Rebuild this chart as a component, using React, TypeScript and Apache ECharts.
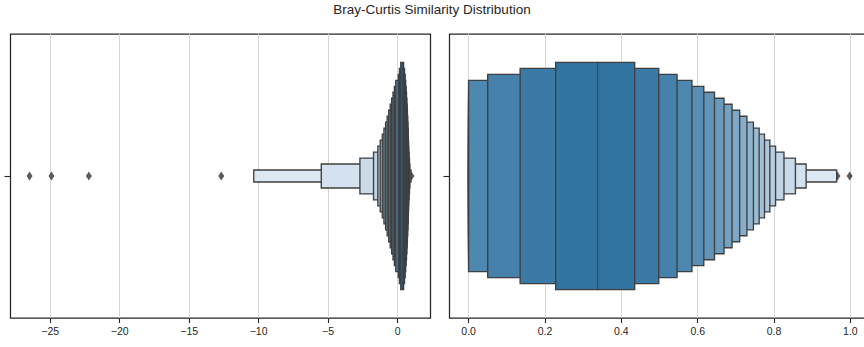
import React, { useEffect, useRef } from "react";
import * as echarts from "echarts";

const TITLE = "Bray-Curtis Similarity Distribution";

// Letter values, innermost box (L1) to outermost box (L19)
const leftLower = [0.228, 0.135, 0.05, -0.13, -0.23, -0.33, -0.43, -0.53, -0.64, -0.75, -0.86, -0.98, -1.1, -1.25, -1.42, -1.73, -2.71, -5.49, -10.35];
const leftUpper = [0.435, 0.498, 0.546, 0.585, 0.616, 0.644, 0.669, 0.69, 0.71, 0.729, 0.746, 0.761, 0.775, 0.789, 0.804, 0.826, 0.856, 0.884, 0.964];
const rightLower = [0.228, 0.135, 0.05, 0, 0, 0, 0, 0, 0, 0, 0, 0, 0, 0, 0, 0, 0, 0, 0];
const rightUpper = [0.435, 0.498, 0.546, 0.585, 0.616, 0.644, 0.669, 0.69, 0.71, 0.729, 0.746, 0.761, 0.775, 0.789, 0.804, 0.826, 0.856, 0.884, 0.964];
const leftMedian = 0.338;
const rightMedian = 0.338;
const leftOutliers = [-26.49, -24.91, -22.22, -12.69, 0.998];
const rightOutliers = [0.966, 0.998];
const leftTicks = [-25, -20, -15, -10, -5, 0];
const rightTicks = [0, 0.2, 0.4, 0.6, 0.8, 1.0];

const INNER = [50, 116, 161];
const OUTER = [220, 232, 242];
const EDGE = "#3f3f3f";
const MARK = "#333333";
const TEXT = "#262626";
const FONT = "Liberation Sans, Arial, sans-serif";

function levelColors(n: number): string[] {
  const out: string[] = [];
  for (let i = 0; i < n; i++) {
    const t = n === 1 ? 0 : i / (n - 1);
    const c = INNER.map((v, j) => Math.round(v + (OUTER[j] - v) * t));
    out.push(`rgb(${c[0]},${c[1]},${c[2]})`);
  }
  return out;
}

function boxData(lower: number[], upper: number[]) {
  const n = lower.length;
  const rows: number[][] = [];
  // outermost first so inner boxes are drawn on top
  for (let i = n - 1; i >= 0; i--) {
    const half = (0.4 * (n - i)) / n;
    rows.push([lower[i], upper[i], half, i]);
  }
  return rows;
}

export default function App() {
  const ref = useRef<HTMLDivElement>(null);
  useEffect(() => {
    document.body.style.margin = "0";
    if (!ref.current) return;
    const chart = echarts.init(ref.current, undefined, { renderer: "svg" });
    const colors = levelColors(leftLower.length);

    const boxRender = (params: any, api: any) => {
      const lo = api.value(0);
      const hi = api.value(1);
      const hh = api.value(2);
      const lvl = api.value(3);
      const a = api.coord([lo, hh]);
      const b = api.coord([hi, -hh]);
      return {
        type: "rect",
        shape: { x: a[0], y: a[1], width: b[0] - a[0], height: b[1] - a[1] },
        style: { fill: colors[lvl], stroke: EDGE, lineWidth: 1.35 },
      };
    };
    const medianRender = (params: any, api: any) => {
      const m = api.value(0);
      const a = api.coord([m, 0.4]);
      const b = api.coord([m, -0.4]);
      return {
        type: "line",
        shape: { x1: a[0], y1: a[1], x2: b[0], y2: b[1] },
        style: { stroke: "rgba(38,38,38,0.45)", lineWidth: 1.3 },
      };
    };

    const xAxisBase = (gridIndex: number, min: number, max: number, ticks: number[], fmt: (v: number) => string) => ({
      type: "value",
      gridIndex,
      position: "bottom",
      min,
      max,
      axisLine: { show: false, onZero: false },
      axisTick: { show: true, customValues: ticks, length: 5, lineStyle: { color: TEXT, width: 1.1 } },
      axisLabel: { customValues: ticks, formatter: fmt, color: TEXT, fontSize: 10.5, fontFamily: FONT, margin: 7 },
      splitLine: { show: true, lineStyle: { color: "#d6d6d6", width: 1 } },
    });
    const yAxisBase = (gridIndex: number) => ({
      type: "value",
      gridIndex,
      position: "left",
      min: -0.5,
      max: 0.5,
      axisLine: { show: false, onZero: false },
      axisTick: { show: true, customValues: [0], length: 6, lineStyle: { color: TEXT, width: 1.1 } },
      axisLabel: { show: false },
      splitLine: { show: false },
    });

    chart.setOption({
      animation: false,
      title: {
        text: TITLE,
        left: "center",
        top: 2,
        padding: 0,
        textStyle: { fontSize: 13.5, fontWeight: "normal", color: TEXT, fontFamily: FONT },
      },
      grid: [
        { left: 10.5, top: 34, width: 420, height: 284, show: true, borderColor: TEXT, borderWidth: 1.25, backgroundColor: "transparent", outerBoundsMode: "none", containLabel: false },
        { left: 449.5, top: 34, width: 420, height: 284, show: true, borderColor: TEXT, borderWidth: 1.25, backgroundColor: "transparent", outerBoundsMode: "none", containLabel: false },
      ],
      xAxis: [
        xAxisBase(0, -27.86, 2.37, leftTicks, (v: number) => String(v).replace("-", "\u2212")),
        xAxisBase(1, -0.05, 1.05, rightTicks, (v: number) => v.toFixed(1)),
      ],
      yAxis: [yAxisBase(0), yAxisBase(1)],
      series: [
        {
          type: "scatter",
          xAxisIndex: 0,
          yAxisIndex: 0,
          z: 1,
          symbol: "diamond",
          symbolSize: [6, 9],
          itemStyle: { color: MARK },
          data: leftOutliers.map((v) => [v, 0]),
        },
        {
          type: "scatter",
          xAxisIndex: 1,
          yAxisIndex: 1,
          z: 1,
          symbol: "diamond",
          symbolSize: [6, 9],
          itemStyle: { color: MARK },
          data: rightOutliers.map((v) => [v, 0]),
        },
        {
          type: "custom",
          xAxisIndex: 0,
          yAxisIndex: 0,
          z: 2,
          renderItem: boxRender,
          encode: { x: [0, 1], y: 2 },
          data: boxData(leftLower, leftUpper),
        },
        {
          type: "custom",
          xAxisIndex: 1,
          yAxisIndex: 1,
          z: 2,
          renderItem: boxRender,
          encode: { x: [0, 1], y: 2 },
          data: boxData(rightLower, rightUpper),
        },
        {
          type: "custom",
          xAxisIndex: 0,
          yAxisIndex: 0,
          z: 3,
          renderItem: medianRender,
          encode: { x: 0, y: 1 },
          data: [[leftMedian, 0]],
        },
        {
          type: "custom",
          xAxisIndex: 1,
          yAxisIndex: 1,
          z: 3,
          renderItem: medianRender,
          encode: { x: 0, y: 1 },
          data: [[rightMedian, 0]],
        },
      ],
    });
    return () => chart.dispose();
  }, []);
  return <div ref={ref} style={{ width: 864, height: 347 }} />;
}
